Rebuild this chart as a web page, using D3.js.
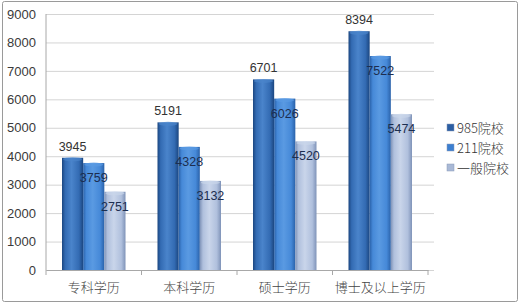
<!DOCTYPE html>
<html><head><meta charset="utf-8">
<script src="https://cdn.jsdelivr.net/npm/d3@7"></script>
<style>html,body{margin:0;padding:0;background:#fff;}svg{display:block;}</style>
</head><body>
<svg id="c" width="520" height="303"></svg>
<script>
const categories = ["专科学历", "本科学历", "硕士学历", "博士及以上学历"];
const seriesNames = ["985院校", "211院校", "一般院校"];
const s985 = [3945, 5191, 6701, 8394];
const s211 = [3759, 4328, 6026, 7522];
const sGen = [2751, 3132, 4520, 5474];
const yTicks = [0, 1000, 2000, 3000, 4000, 5000, 6000, 7000, 8000, 9000];

const series = [s985, s211, sGen];
const colors = [
  {edge:"#1b4680", mid:"#336bb3", light:"#4a84cb"},
  {edge:"#2a62aa", mid:"#4689d8", light:"#5a9ae2"},
  {edge:"#7f93b8", mid:"#b0c0dd", light:"#c9d5ea"}
];
const legendColors = ["#2b5ea3", "#3c7fd0", "#a9b9d6"];

const svg = d3.select("#c");
svg.append("rect").attr("x",2.5).attr("y",1.5).attr("width",515).attr("height",300)
  .attr("fill","#fff").attr("stroke","#9a9a9a").attr("stroke-width",1).attr("rx",2);

const m = {l:46, r:428, t:14, b:270};
const y = d3.scaleLinear().domain([0,9000]).range([m.b, m.t]);
const x = d3.scaleBand().domain(categories).range([m.l, m.r]).paddingInner(0).paddingOuter(0);
const xs = d3.scaleBand().domain(d3.range(3)).range([16, x.bandwidth()-16]).padding(0);

const defs = svg.append("defs");
colors.forEach((c,i)=>{
  const g = defs.append("linearGradient").attr("id","g"+i).attr("x1","0").attr("x2","1").attr("y1","0").attr("y2","0");
  g.append("stop").attr("offset","0%").attr("stop-color",c.edge);
  g.append("stop").attr("offset","15%").attr("stop-color",c.mid);
  g.append("stop").attr("offset","45%").attr("stop-color",c.light);
  g.append("stop").attr("offset","80%").attr("stop-color",c.mid);
  g.append("stop").attr("offset","100%").attr("stop-color",c.edge);
});

// gridlines + y ticks
const yAxis = d3.axisLeft(y).tickValues(yTicks).tickSize(-(m.r - m.l) - 3).tickPadding(10).tickFormat(d3.format("d"));
const ga = svg.append("g").attr("transform",`translate(${m.l+3},0)`).call(yAxis);
ga.select(".domain").remove();
ga.selectAll(".tick line").attr("stroke","#d4d4d4").attr("x1",-3);
ga.selectAll(".tick text").attr("font-family","'Liberation Sans', Arial, sans-serif").attr("font-size",13).attr("fill","#3a3a3a").attr("dx",-3);
svg.append("line").attr("x1",m.l).attr("x2",m.l).attr("y1",m.t).attr("y2",m.b).attr("stroke","#a8a8a8");

// bars
const groups = svg.append("g").selectAll("g").data(categories).join("g")
  .attr("transform",d=>`translate(${x(d)},0)`);
series.forEach((s,si)=>{
  groups.append("rect")
    .attr("x",xs(si)).attr("width",xs.bandwidth())
    .attr("y",(d,i)=>y(s[i])).attr("height",(d,i)=>y(0)-y(s[i]))
    .attr("fill",`url(#g${si})`);
  groups.append("ellipse")
    .attr("cx",xs(si)+xs.bandwidth()/2).attr("cy",(d,i)=>y(s[i])+1.5)
    .attr("rx",xs.bandwidth()/2-1).attr("ry",2)
    .attr("fill",colors[si].light).attr("opacity",0.7);
});
// value labels
series.forEach((s,si)=>{
  groups.append("text")
    .attr("x",xs(si)+xs.bandwidth()/2)
    .attr("y",(d,i)=>y(s[i]) + (si===0 ? -7 : 19))
    .attr("text-anchor","middle")
    .attr("font-family","'Liberation Sans', Arial, sans-serif").attr("font-size",12.5)
    .attr("fill", si===0 ? "#333" : "#1c2e50")
    .text((d,i)=>s[i]);
});

// x axis
const xAxis = d3.axisBottom(x).tickSize(0).tickPadding(10);
const gx = svg.append("g").attr("transform",`translate(0,${m.b})`).call(xAxis);
gx.select(".domain").attr("stroke","#a8a8a8");
gx.selectAll(".tick text").attr("font-family","'Noto Sans CJK SC', sans-serif").attr("font-weight",300)
  .attr("font-size",13).attr("fill","#444").attr("dy","0.9em");
const bounds = d3.range(categories.length+1).map(i=> m.l + i*x.bandwidth());
svg.append("g").selectAll("line").data(bounds).join("line")
  .attr("x1",d=>d).attr("x2",d=>d).attr("y1",m.b).attr("y2",m.b+5).attr("stroke","#a8a8a8");

// legend
const lg = svg.append("g").attr("transform","translate(447,128)");
seriesNames.forEach((n,i)=>{
  const row = lg.append("g").attr("transform",`translate(0,${i*20})`);
  row.append("rect").attr("x",0).attr("y",-4).attr("width",7).attr("height",7)
    .attr("fill",legendColors[i]).attr("stroke","#8a9ab8").attr("stroke-width",0.5);
  row.append("text").attr("x",10).attr("y",5)
    .attr("font-family","'Noto Sans CJK SC', sans-serif").attr("font-weight",300)
    .attr("font-size",13).attr("fill","#333").text(n);
});
</script>
</body></html>
